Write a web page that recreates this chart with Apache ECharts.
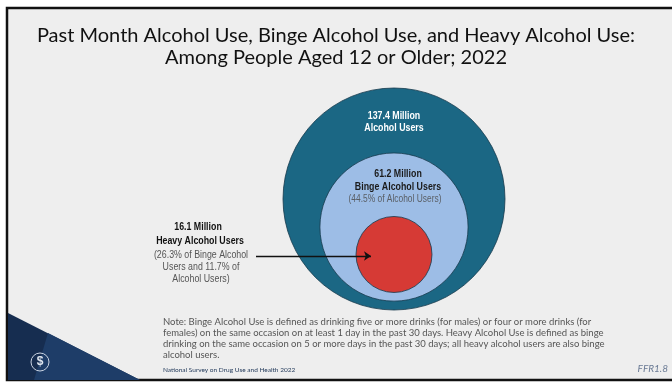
<!DOCTYPE html>
<html>
<head>
<meta charset="utf-8">
<script src="https://cdn.jsdelivr.net/npm/echarts@6/dist/echarts.min.js"></script>
<style>
  html, body { margin: 0; padding: 0; background: #ffffff; }
  #chart { width: 672px; height: 382px; }
</style>
</head>
<body>
<div id="chart"></div>
<script>
// Data (millions of people aged 12+)
var groups = ['Alcohol Users', 'Binge Alcohol Users', 'Heavy Alcohol Users'];
var millions = [137.4, 61.2, 16.1];
var circleColors = ['#1b6784', '#9dbde6', '#d63a35'];

var noteLines = [
  'Note: Binge Alcohol Use is defined as drinking five or more drinks (for males) or four or more drinks (for',
  'females) on the same occasion on at least 1 day in the past 30 days. Heavy Alcohol Use is defined as binge',
  'drinking on the same occasion on 5 or more days in the past 30 days; all heavy alcohol users are also binge',
  'alcohol users.'
];

var labelFont = "'Liberation Sans', Arial, sans-serif";

var myChart = echarts.init(document.getElementById('chart'));

// circles are area-proportional, nested and sitting low in the outer one
var outerR = 111;
var rScale = outerR / Math.sqrt(millions[0]);
var centerX = 394, outerY = 199;

var circleData = millions.map(function (v, i) {
  var r = Math.sqrt(v) * rScale;
  return {
    name: groups[i],
    value: [centerX, outerY + 0.76 * (outerR - r), v],
    symbolSize: r * 2,
    itemStyle: { color: circleColors[i] }
  };
});

var innerY = circleData[2].value[1];

// condensed look: squeeze the text horizontally
function txt(x, y, s, style) {
  return {
    type: 'text', x: x, y: y, z: 50, scaleX: 0.84,
    style: Object.assign({ text: s, textAlign: 'center', textVerticalAlign: 'middle' }, style)
  };
}

var graphics = [
  // slide frame
  { type: 'rect', shape: { x: 7, y: 8, width: 670, height: 372 },
    style: { fill: '#eeeeee', stroke: '#111111', lineWidth: 2.5 }, z: -10 },
  // bottom-left corner decoration
  { type: 'polygon', shape: { points: [[8, 313], [140, 380], [8, 380]] },
    style: { fill: '#162d50' }, z: -5 },
  { type: 'polygon', shape: { points: [[48, 333], [140, 380], [34, 380]] },
    style: { fill: '#1e3d68' }, z: -4 },
  { type: 'circle', shape: { cx: 40, cy: 362, r: 9 },
    style: { fill: 'none', stroke: '#c9d3e2', lineWidth: 1 }, z: -3 },
  { type: 'text', x: 40, y: 362, style: { text: '$', fill: '#dfe6ef', font: 'bold 12px sans-serif',
    textAlign: 'center', textVerticalAlign: 'middle' } },

  // labels
  txt(394, 116, '137.4 Million', { fill: '#ffffff', font: 'bold 10.5px ' + labelFont }),
  txt(394, 128, 'Alcohol Users', { fill: '#ffffff', font: 'bold 10.5px ' + labelFont }),
  txt(398, 174, '61.2 Million', { fill: '#1a1a1a', font: 'bold 10.5px ' + labelFont }),
  txt(398, 187, 'Binge Alcohol Users', { fill: '#1a1a1a', font: 'bold 10.5px ' + labelFont }),
  txt(395, 199, '(44.5% of Alcohol Users)', { fill: '#5a5f66', font: '10px ' + labelFont }),

  txt(198, 227, '16.1 Million', { fill: '#111111', font: 'bold 10.5px ' + labelFont }),
  txt(200, 241, 'Heavy Alcohol Users', { fill: '#111111', font: 'bold 10.5px ' + labelFont }),
  txt(201, 255, '(26.3% of Binge Alcohol', { fill: '#555555', font: '10.5px ' + labelFont }),
  txt(201, 267, 'Users and 11.7% of', { fill: '#555555', font: '10.5px ' + labelFont }),
  txt(201, 279, 'Alcohol Users)', { fill: '#555555', font: '10.5px ' + labelFont }),

  // footer
  { type: 'text', x: 163, y: 370, style: { text: 'National Survey on Drug Use and Health 2022',
    fill: '#1d3557', font: '6.5px Lato', textVerticalAlign: 'middle' } },
  { type: 'text', x: 668, y: 369, style: { text: 'FFR1.8', textAlign: 'right',
    fill: '#6b7b95', font: 'italic 10px Lato', textVerticalAlign: 'middle' } }
];

noteLines.forEach(function (line, i) {
  graphics.push({ type: 'text', x: 163, y: 322 + i * 11,
    style: { text: line, fill: '#555555', font: '9.5px Lato', textVerticalAlign: 'middle' } });
});

var option = {
  animation: false,
  title: {
    text: 'Past Month Alcohol Use, Binge Alcohol Use, and Heavy Alcohol Use:\nAmong People Aged 12 or Older; 2022',
    left: 'center',
    top: 20,
    textStyle: { fontFamily: 'Lato', fontSize: 20, fontWeight: 'normal', color: '#111111', lineHeight: 22 }
  },
  grid: { left: 0, right: 0, top: 0, bottom: 0 },
  xAxis: { type: 'value', min: 0, max: 672, show: false },
  yAxis: { type: 'value', min: 0, max: 382, inverse: true, show: false },
  graphic: graphics,
  series: [
    {
      type: 'scatter',
      data: circleData,
      itemStyle: { opacity: 1, borderColor: '#163a4c', borderWidth: 0.8 },
      silent: true
    },
    {
      type: 'lines',
      coordinateSystem: 'cartesian2d',
      symbol: ['none', 'arrow'],
      symbolSize: 7,
      lineStyle: { color: '#111111', width: 1.3, opacity: 1 },
      data: [{ coords: [[256, innerY + 1.5], [centerX - 23, innerY + 1.5]] }],
      z: 10
    }
  ]
};

myChart.setOption(option);
</script>
</body>
</html>
